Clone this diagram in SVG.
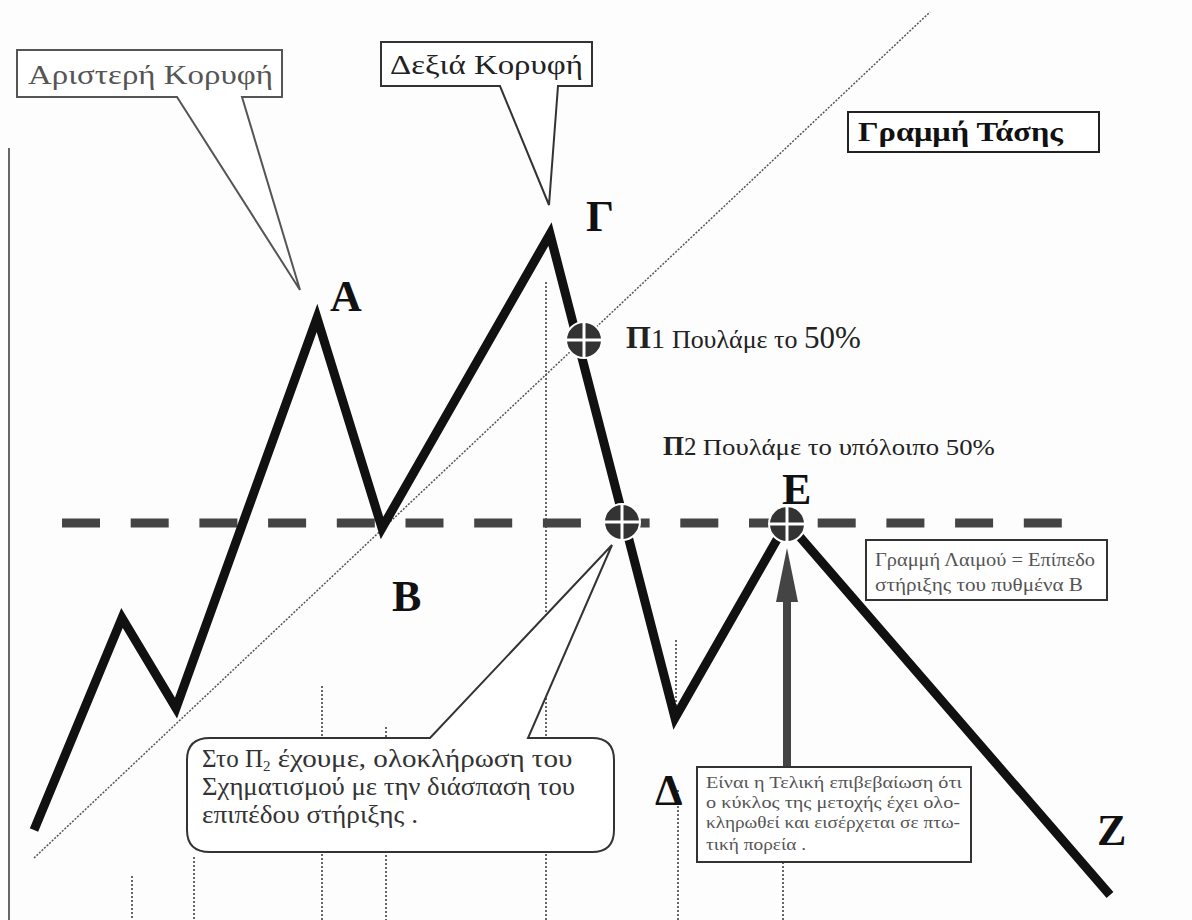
<svg xmlns="http://www.w3.org/2000/svg" width="1192" height="920" viewBox="0 0 1192 920">
<style>
.serif{font-family:"Liberation Serif","DejaVu Serif",serif}
.big{font-family:"Liberation Serif",serif;font-weight:bold;font-size:44px;fill:#111}
.box{fill:#fff;stroke:#555;stroke-width:2}
.dot{stroke:#666;stroke-width:2;stroke-dasharray:2 2;fill:none}
.gtxt{font-family:"Liberation Serif",serif;fill:#555}
</style>
<defs>
<g id="target">
<circle r="18" fill="#333" stroke="#fff" stroke-width="2"/>
<line x1="-18" y1="0" x2="18" y2="0" stroke="#fff" stroke-width="3"/>
<line x1="0" y1="-18" x2="0" y2="18" stroke="#fff" stroke-width="3"/>
</g>
</defs>
<rect width="1192" height="920" fill="#fdfdfd"/>

<g id="axis">
<line x1="9" y1="148" x2="9" y2="920" stroke="#666" stroke-width="2"/>
</g>

<g id="verticals">
<line class="dot" x1="132" y1="876" x2="132" y2="920"/>
<line class="dot" x1="194" y1="857" x2="194" y2="920"/>
<line class="dot" x1="322" y1="686" x2="322" y2="920"/>
<line class="dot" x1="386" y1="727" x2="386" y2="920"/>
<line class="dot" x1="546" y1="282" x2="546" y2="920"/>
<line class="dot" x1="676" y1="640" x2="676" y2="712"/>
<line class="dot" x1="678" y1="790" x2="678" y2="920"/>
<line class="dot" x1="783" y1="862" x2="783" y2="920"/>
</g>

<g id="trendline">
<line x1="34" y1="858" x2="930" y2="12" stroke="#555" stroke-width="1.5" stroke-dasharray="2 1.5"/>
</g>

<g id="neckline">
<line x1="62" y1="523" x2="1062" y2="523" stroke="#444" stroke-width="9" stroke-dasharray="38 30.7"/>
</g>

<g id="connectors">
<polyline points="34,830 122,618 176,708 317,318 382,528 550,234 675,718 787,522 1110,895" fill="none" stroke="#111" stroke-width="9" stroke-linejoin="miter" stroke-miterlimit="10"/>
</g>

<g id="callout-left">
<path class="box" d="M17,50 H282 V97 H242 L300,290 L177,97 H17 Z"/>
<text class="gtxt" x="28" y="84" font-size="27" textLength="245" lengthAdjust="spacingAndGlyphs">Αριστερή  Κορυφή</text>
</g>

<g id="callout-right">
<path d="M381,42 H592 V86 H558 L549,205 L500,86 H381 Z" fill="#fff" stroke="#333" stroke-width="2"/>
<text class="serif" x="390" y="74" font-size="28" fill="#222" textLength="193" lengthAdjust="spacingAndGlyphs">Δεξιά  Κορυφή</text>
</g>

<g id="trend-label">
<rect x="848" y="112" width="251" height="40" fill="#fff" stroke="#222" stroke-width="2"/>
<text class="serif" x="858" y="141" font-size="28" font-weight="bold" fill="#111" textLength="205" lengthAdjust="spacingAndGlyphs">Γραμμή  Τάσης</text>
</g>

<g id="peak-labels">
<text class="big" x="330" y="311" font-size="40">A</text>
<text class="big" x="586" y="231">Γ</text>
<text class="big" x="392" y="611" font-size="42">B</text>
<text class="big" x="782" y="504" font-size="42">E</text>
<text class="big" x="655" y="805" font-size="40">Δ</text>
<text class="big" x="1097" y="845" font-size="48">Z</text>
</g>

<g id="p1">
<use href="#target" x="584" y="340"/>
<text class="serif" x="626" y="348" fill="#222"><tspan font-size="32" font-weight="bold">Π</tspan><tspan font-size="28">1 </tspan><tspan font-size="25" textLength="132" lengthAdjust="spacingAndGlyphs">Πουλάμε το </tspan><tspan font-size="31">50%</tspan></text>
</g>

<g id="p2">
<use href="#target" x="622" y="522"/>
<text class="serif" x="663" y="455" fill="#222"><tspan font-size="27" font-weight="bold">Π</tspan><tspan font-size="25">2 </tspan><tspan font-size="23" textLength="292" lengthAdjust="spacingAndGlyphs">Πουλάμε το υπόλοιπο 50%</tspan></text>
</g>

<g id="e-point">
<use href="#target" x="787" y="524"/>
</g>

<g id="neck-label">
<rect x="866" y="540" width="241" height="60" fill="#fff" stroke="#333" stroke-width="2"/>
<text class="gtxt" x="875" y="566" font-size="19" textLength="220" lengthAdjust="spacingAndGlyphs">Γραμμή Λαιμού = Επίπεδο</text>
<text class="gtxt" x="875" y="591" font-size="19" textLength="208" lengthAdjust="spacingAndGlyphs">στήριξης  του πυθμένα  Β</text>
</g>

<g id="arrow">
<line x1="787" y1="768" x2="787" y2="598" stroke="#444" stroke-width="8"/>
<polygon points="787,548 776,602 798,602" fill="#444"/>
</g>

<g id="confirm-box">
<rect x="697" y="767" width="274" height="95" fill="#fff" stroke="#333" stroke-width="2"/>
<text class="gtxt" font-size="17">
<tspan x="706" y="788" textLength="256" lengthAdjust="spacingAndGlyphs">Είναι η Τελική  επιβεβαίωση  ότι</tspan>
<tspan x="706" y="808" textLength="254" lengthAdjust="spacingAndGlyphs">ο κύκλος της μετοχής έχει ολο-</tspan>
<tspan x="706" y="828" textLength="254" lengthAdjust="spacingAndGlyphs">κληρωθεί και εισέρχεται σε πτω-</tspan>
<tspan x="706" y="850" textLength="100" lengthAdjust="spacingAndGlyphs">τική πορεία .</tspan>
</text>
</g>

<g id="bubble">
<path d="M210,738 H430 L612,545 L528,738 H592 Q614,738 614,760 V830 Q614,852 592,852 H210 Q187,852 187,830 V760 Q187,738 210,738 Z" fill="#fff" stroke="#333" stroke-width="2"/>
<text class="serif" font-size="25" fill="#333">
<tspan x="202" y="767">Στο Π<tspan font-size="15" dy="4">2</tspan><tspan dy="-4" textLength="302" lengthAdjust="spacingAndGlyphs"> έχουμε, ολοκλήρωση του</tspan></tspan>
<tspan x="202" y="795" textLength="373" lengthAdjust="spacingAndGlyphs">Σχηματισμού με την διάσπαση του</tspan>
<tspan x="202" y="823" textLength="216" lengthAdjust="spacingAndGlyphs">επιπέδου στήριξης .</tspan>
</text>
</g>
</svg>
